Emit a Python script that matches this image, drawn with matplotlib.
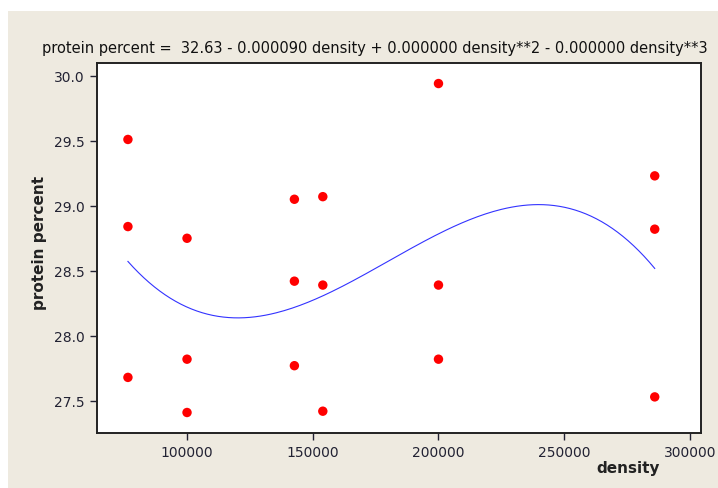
import numpy as np
import matplotlib
matplotlib.use('Agg')
import matplotlib.pyplot as plt
from matplotlib.patches import Rectangle

# data
density = [76500, 76500, 76500,
           100000, 100000, 100000,
           142700, 142700, 142700,
           154000, 154000, 154000,
           200000, 200000, 200000,
           286000, 286000, 286000]
protein = [29.51, 28.84, 27.68,
           28.75, 27.82, 27.41,
           29.05, 28.42, 27.77,
           29.07, 28.39, 27.42,
           29.94, 28.39, 27.82,
           29.23, 28.82, 27.53]

x_ticks = [100000, 150000, 200000, 250000, 300000]
y_ticks = [27.5, 28.0, 28.5, 29.0, 29.5, 30.0]
title = 'protein percent =  32.63 - 0.000090 density + 0.000000 density**2 - 0.000000 density**3'

plt.rcParams['font.family'] = ['DejaVu Sans']

W, H = 718, 489
fig = plt.figure(figsize=(W / 100, H / 100), dpi=100, facecolor='white')
fig.patches.append(Rectangle((8 / W, 0), 1 - 8 / W, 1 - 12 / H, transform=fig.transFigure,
                             facecolor='#EEEAE0', edgecolor='none', zorder=-5))

ax = fig.add_axes([96.5 / W, 1 - 434.3 / H, (701 - 96.5) / W, (434.3 - 64) / H])
ax.set_zorder(1)
ax.set_facecolor('white')

# cubic regression fit
coef = np.polyfit(density, protein, 3)
xs = np.linspace(min(density), max(density), 200)
ax.plot(xs, np.polyval(coef, xs), color='#3333FF', linewidth=0.8, zorder=2)
ax.scatter(density, protein, s=46, color='#FF0000', edgecolors='none', zorder=3)

ax.set_xlim(64000, 304400)
ax.set_ylim(27.25, 30.098)
ax.set_xticks(x_ticks)
ax.set_xticklabels([str(t) for t in x_ticks])
ax.set_yticks(y_ticks)
ax.set_yticklabels(['%.1f' % t for t in y_ticks])
ax.tick_params(direction='out', length=5, width=1, labelsize=10, colors='#222233')

for side in ['top', 'right', 'left', 'bottom']:
    ax.spines[side].set_linewidth(1.4)
    ax.spines[side].set_color('#222222')

fig.text(40 / W, 1 - 243 / H, 'protein percent', rotation=90, ha='center', va='center',
         fontsize=11, fontweight='bold', color='#222222')
fig.text(628 / W, 1 - 469 / H, 'density', ha='center', va='center',
         fontsize=11, fontweight='bold', color='#222222')
fig.text(42 / W, 1 - 49 / H, title, ha='left', va='center', fontsize=10.5, color='#111111')

fig.savefig('out.png', dpi=100, facecolor=fig.get_facecolor())
